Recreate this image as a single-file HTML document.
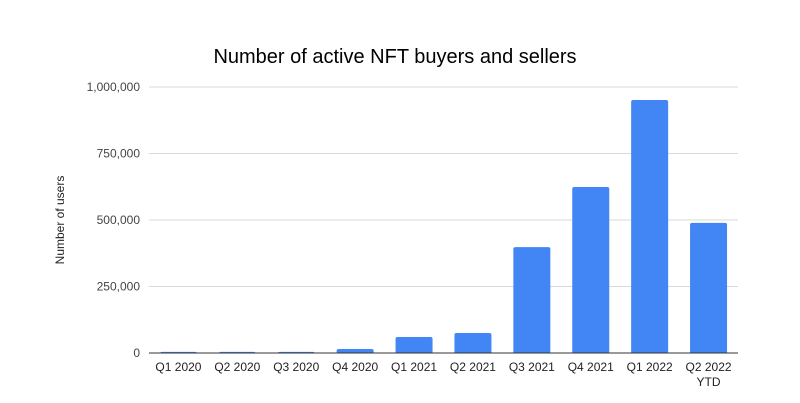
<!DOCTYPE html>
<html><head><meta charset="utf-8"><style>
body{margin:0;background:#fff;font-family:"Liberation Sans",Arial,sans-serif}
svg{display:block}
</style></head><body>
<svg width="800" height="403" viewBox="0 0 800 403">
<rect width="800" height="403" fill="#fff"/>
<text x="395" y="63" text-anchor="middle" font-size="20" fill="#000">Number of active NFT buyers and sellers</text>
<text transform="translate(64,220) rotate(-90)" text-anchor="middle" font-size="12" fill="#222">Number of users</text>
<g id="grid"></g><g id="bars"></g><g id="xlabels"></g>
</svg>
<script>
const categories=["Q1 2020","Q2 2020","Q3 2020","Q4 2020","Q1 2021","Q2 2021","Q3 2021","Q4 2021","Q1 2022","Q2 2022|YTD"];
const users=[4000,4000,4000,15000,60000,75000,398000,624000,951000,489000];
const yTicks=[0,250000,500000,750000,1000000];
const yTickLabels=["0","250,000","500,000","750,000","1,000,000"];
const NS="http://www.w3.org/2000/svg";
const L=149,R=738,T=87,B=353,yMax=1000000;
const y=v=>B-(v/yMax)*(B-T);
const slot=(R-L)/categories.length;
const x=i=>L+slot*(i+0.5);
const bw=37;
function mk(t,a){const e=document.createElementNS(NS,t);for(const k in a)e.setAttribute(k,a[k]);return e;}
const g=document.getElementById('grid'),bg=document.getElementById('bars'),xl=document.getElementById('xlabels');
yTicks.forEach((v,i)=>{
 const ln=mk('line',{x1:L,x2:R,y1:y(v),y2:y(v),stroke:i==0?'#333':'#d9d9d9','stroke-width':1});
 
 
 g.appendChild(ln);
 const t=mk('text',{x:L-9,y:y(v)+4,'text-anchor':'end','font-size':12,fill:'#444'});
 t.textContent=yTickLabels[i];
 
 
 g.appendChild(t);
});
users.forEach((v,i)=>{
 const h=B-y(v);
 const r=mk('path',{fill:'#4285f4',d:`M${x(i)-bw/2},${B} V${y(v)+2} Q${x(i)-bw/2},${y(v)} ${x(i)-bw/2+2},${y(v)} H${x(i)+bw/2-2} Q${x(i)+bw/2},${y(v)} ${x(i)+bw/2},${y(v)+2} V${B} Z`});
 
 
 bg.appendChild(r);
 const parts=categories[i].split('|');
 parts.forEach((p,j)=>{
  const t=mk('text',{x:x(i),y:B+18+j*15,'text-anchor':'middle','font-size':12,fill:'#222'});
  t.textContent=p;
  
  
  xl.appendChild(t);
 });
});
const ax=mk('line',{x1:L,x2:R,y1:B,y2:B,stroke:'#333','stroke-width':1});


bg.appendChild(ax);
</script>
</body></html>
